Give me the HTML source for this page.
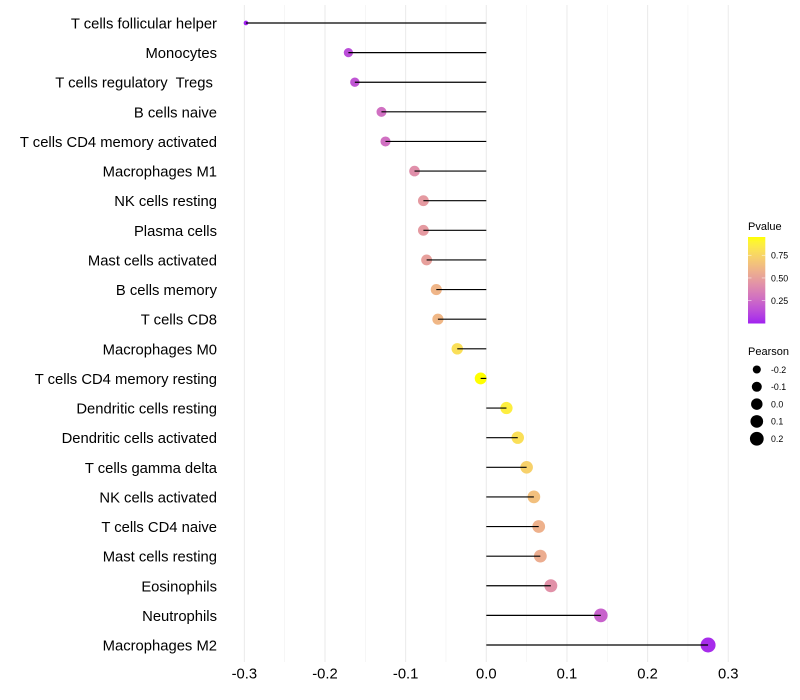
<!DOCTYPE html>
<html>
<head>
<meta charset="utf-8">
<style>
html,body{margin:0;padding:0;background:#fff}
svg{display:block}
text{font-family:"Liberation Sans",sans-serif;white-space:pre}
</style>
</head>
<body>
<svg id="chart" xmlns="http://www.w3.org/2000/svg" width="800" height="700" viewBox="0 0 800 700">
<defs><linearGradient id="pvalue-gradient" x1="0" y1="1" x2="0" y2="0"></linearGradient></defs>
<g id="grid"></g>
<g id="points"></g>
<g id="stems"></g>
<g id="ylabels"></g>
<g id="xlabels"></g>
<g id="color-legend"></g>
<g id="size-legend"></g>
</svg>
<script>
const categories = ["T cells follicular helper","Monocytes","T cells regulatory  Tregs ","B cells naive","T cells CD4 memory activated","Macrophages M1","NK cells resting","Plasma cells","Mast cells activated","B cells memory","T cells CD8","Macrophages M0","T cells CD4 memory resting","Dendritic cells resting","Dendritic cells activated","T cells gamma delta","NK cells activated","T cells CD4 naive","Mast cells resting","Eosinophils","Neutrophils","Macrophages M2"];
const pearson = [-0.298,-0.171,-0.163,-0.130,-0.125,-0.089,-0.078,-0.078,-0.074,-0.062,-0.060,-0.036,-0.007,0.025,0.039,0.050,0.059,0.065,0.067,0.080,0.142,0.275];
const pvalue = [0.00,0.14,0.17,0.28,0.28,0.42,0.47,0.47,0.50,0.60,0.61,0.80,0.95,0.87,0.80,0.73,0.65,0.58,0.56,0.43,0.22,0.03];
const xTicks = [-0.3,-0.2,-0.1,0.0,0.1,0.2,0.3];
const xMinorTicks = [-0.25,-0.15,-0.05,0.05,0.15,0.25];
const pvalueTicks = [0.25,0.50,0.75];
const pearsonLegend = [-0.2,-0.1,0.0,0.1,0.2];

const NS = "http://www.w3.org/2000/svg";
const xScale = v => 486.3 + v * 806.5;
const yScale = i => 23 + i * (645 - 23) / (categories.length - 1);
const pMax = 0.95;
const pearsonMin = -0.3, pearsonMax = 0.275;
const rScale = v => 2 + 5.5 * Math.sqrt(Math.max(0, (v - pearsonMin) / (pearsonMax - pearsonMin)));

function rgb2lab(c){
  const f = u => { u/=255; return u>0.04045?Math.pow((u+0.055)/1.055,2.4):u/12.92; };
  const r=f(c[0]),g=f(c[1]),b=f(c[2]);
  const X=(0.4124*r+0.3576*g+0.1805*b)/0.95047,Y=0.2126*r+0.7152*g+0.0722*b,Z=(0.0193*r+0.1192*g+0.9505*b)/1.08883;
  const h=t=>t>0.008856?Math.cbrt(t):7.787*t+16/116;
  return [116*h(Y)-16,500*(h(X)-h(Y)),200*(h(Y)-h(Z))];
}
function lab2rgb(l){
  const y=(l[0]+16)/116,x=l[1]/500+y,z=y-l[2]/200;
  const h=t=>t*t*t>0.008856?t*t*t:(t-16/116)/7.787;
  const X=h(x)*0.95047,Y=h(y),Z=h(z)*1.08883;
  const o=[3.2406*X-1.5372*Y-0.4986*Z,-0.9689*X+1.8758*Y+0.0415*Z,0.0557*X-0.2040*Y+1.0570*Z];
  return o.map(u=>{u=u>0.0031308?1.055*Math.pow(u,1/2.4)-0.055:12.92*u;return Math.round(Math.min(1,Math.max(0,u))*255);});
}
const labLow = rgb2lab([160,32,240]), labHigh = rgb2lab([255,255,0]);
function colorScale(p){
  const t = Math.min(1, Math.max(0, p / pMax));
  const c = lab2rgb(labLow.map((v,i)=>v+(labHigh[i]-v)*t));
  return "rgb("+c.join(",")+")";
}
function make(parent, tag, attrs, txt){
  const el = document.createElementNS(NS, tag);
  for (const k in attrs) el.setAttribute(k, attrs[k]);
  if (txt !== undefined) el.textContent = txt;
  parent.appendChild(el);
  return el;
}
const grid = document.getElementById("grid");
const points = document.getElementById("points");
const stems = document.getElementById("stems");
const ylabels = document.getElementById("ylabels");
const xlabels = document.getElementById("xlabels");
const colorLegend = document.getElementById("color-legend");
const sizeLegend = document.getElementById("size-legend");

xMinorTicks.forEach(v => {
  const el = make(grid, "line", {x1:xScale(v),x2:xScale(v),y1:5,y2:662,stroke:"#f0f0f0","stroke-width":0.55});
  
  
});
xTicks.forEach(v => {
  const el = make(grid, "line", {x1:xScale(v),x2:xScale(v),y1:5,y2:662,stroke:"#ebebeb","stroke-width":1.07});
  
  
  const t = make(xlabels, "text", {x:xScale(v),y:678.5,"text-anchor":"middle","font-size":14.8,fill:"#000"}, v.toFixed(1));
  
  
});
categories.forEach((name, i) => {
  const y = yScale(i);
  const dot = make(points, "circle", {cx:xScale(pearson[i]),cy:y,r:rScale(pearson[i]),fill:colorScale(pvalue[i])});
  
  
  const stem = make(stems, "line", {x1:xScale(0),x2:xScale(pearson[i]),y1:y,y2:y,stroke:"#000","stroke-width":1.15});
  
  
  const t = make(ylabels, "text", {x:217,y:y+5.5,"text-anchor":"end","font-size":14.8,fill:"#000"}, name);
  
  
});

/* colour legend */
const grad = document.getElementById("pvalue-gradient");
for (let s = 0; s <= 20; s++) {
  make(grad, "stop", {offset:(s/20), "stop-color":colorScale(pMax*s/20)});
}
const barTop = 237, barBottom = 323.5, barX = 748, barW = 17.3;
const pToY = p => barBottom - (p / pMax) * (barBottom - barTop);
const pTitle = make(colorLegend, "text", {x:748,y:230,"font-size":11,fill:"#000"}, "Pvalue");


const bar = make(colorLegend, "rect", {x:barX,y:barTop,width:barW,height:barBottom-barTop,fill:"url(#pvalue-gradient)"});


pvalueTicks.forEach(p => {
  const y = pToY(p);
  make(colorLegend, "line", {x1:barX,x2:barX+3.5,y1:y,y2:y,stroke:"#fff","stroke-width":0.5});
  make(colorLegend, "line", {x1:barX+barW-3.5,x2:barX+barW,y1:y,y2:y,stroke:"#fff","stroke-width":0.5});
  const t = make(colorLegend, "text", {x:771,y:y+3.3,"font-size":8.8,fill:"#000"}, p.toFixed(2));
  
  
});

/* size legend */
const sTitle = make(sizeLegend, "text", {x:748,y:355,"font-size":11,fill:"#000"}, "Pearson");


pearsonLegend.forEach((v, i) => {
  const y = 369.5 + i * 17.3;
  const c = make(sizeLegend, "circle", {cx:756.8,cy:y,r:rScale(v) - 0.25,fill:"#000"});
  
  
  const t = make(sizeLegend, "text", {x:771,y:y+3.3,"font-size":8.8,fill:"#000"}, v.toFixed(1));
  
  
});
</script>
</body>
</html>
